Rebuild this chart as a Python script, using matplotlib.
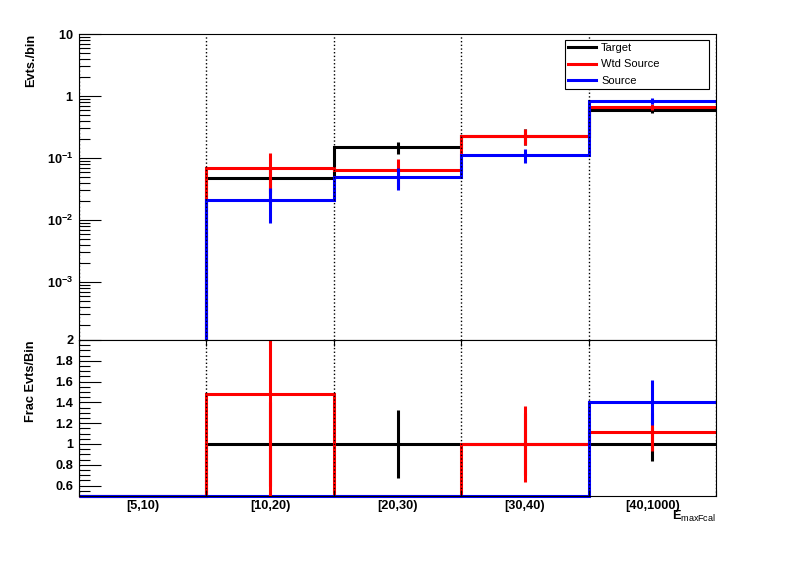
import numpy as np
import matplotlib
matplotlib.use('Agg')
import matplotlib.pyplot as plt
from matplotlib.lines import Line2D
from matplotlib.ticker import FixedLocator, MultipleLocator, LogLocator, FuncFormatter, NullFormatter

plt.rcParams['font.family'] = ['Liberation Sans', 'DejaVu Sans']
plt.rcParams['mathtext.fontset'] = 'custom'
plt.rcParams['mathtext.rm'] = 'Liberation Sans'
plt.rcParams['mathtext.bf'] = 'Liberation Sans:bold'

# Bins
categories = ['[5,10)', '[10,20)', '[20,30)', '[30,40)', '[40,1000)']

# Upper pad: events per bin
target = [0.0, 0.0476, 0.150, 0.229, 0.594]
target_err = [0.0, 0.020, 0.033, 0.064, 0.065]
wtd_source = [0.0, 0.069, 0.064, 0.229, 0.673]
wtd_source_err = [0.0, 0.051, 0.031, 0.064, 0.070]
source = [0.0, 0.021, 0.049, 0.112, 0.83]
source_err = [0.0, 0.012, 0.019, 0.028, 0.10]

# Lower pad: fraction relative to target
frac_target = [0.0, 1.0, 1.0, 1.0, 1.0]
frac_target_err = [0.0, 0.40, 0.33, 0.30, 0.16]
frac_wtd = [0.0, 1.48, 0.43, 1.0, 1.115]
frac_wtd_err = [0.0, 1.20, 0.20, 0.37, 0.18]
frac_src = [0.0, 0.44, 0.33, 0.49, 1.40]
frac_src_err = [0.0, 0.30, 0.30, 0.30, 0.215]

edges = np.arange(len(categories) + 1)
centers = edges[:-1] + 0.5
colors = ['black', 'red', 'blue']
lw = 2.2
fs = 9.2

fig = plt.figure(figsize=(7.96, 5.72), dpi=100)
ax1 = fig.add_axes([79/796, 1 - 340/572, 637/796, 306/572])
ax2 = fig.add_axes([79/796, 1 - 496/572, 637/796, 156/572])

# ---- upper pad
ax1.set_yscale('log')
ylo1, yhi1 = 10**(1 - 306/62), 10
for vals, errs, c in zip([target, wtd_source, source], [target_err, wtd_source_err, source_err], colors):
    ax1.stairs(vals, edges, baseline=None, color=c, lw=lw)
    v = np.array(vals)
    m = v > 0
    ax1.errorbar(centers[m], v[m], yerr=np.array(errs)[m], fmt='none', ecolor=c, elinewidth=lw, capsize=0)
ax1.set_ylim(ylo1, yhi1)
ax1.set_xlim(0, len(categories))
ax1.yaxis.set_major_locator(FixedLocator([1e-3, 1e-2, 1e-1, 1, 10]))
ax1.yaxis.set_minor_locator(LogLocator(base=10, subs=np.arange(2, 10), numticks=20))
ax1.yaxis.set_minor_formatter(NullFormatter())

def logfmt(v, pos):
    if v >= 1:
        return r'$\mathbf{%d}$' % round(v)
    return r'$\mathbf{10^{%d}}$' % round(np.log10(v))

ax1.yaxis.set_major_formatter(FuncFormatter(logfmt))
ax1.set_xticks(edges)
ax1.tick_params(axis='x', length=0, labelbottom=False)
ax1.tick_params(axis='y', which='major', length=16, width=0.8, direction='in', labelsize=fs, pad=4)
ax1.tick_params(axis='y', which='minor', length=8, width=0.8, direction='in')
ax1.grid(axis='x', linestyle=':', color='black', lw=1)
ax1.set_ylabel('Evts./bin', fontsize=fs, fontweight='bold', loc='top')
ax1.yaxis.set_label_coords(-0.066, 1.0)

handles = [Line2D([], [], color=c, lw=lw) for c in colors]
leg = ax1.legend(handles, ['Target', 'Wtd Source', 'Source'], loc='upper left',
                 bbox_to_anchor=(0.763, 0.8235, 0.226, 0.157), mode='expand', borderaxespad=0,
                 fontsize=8, fancybox=False, framealpha=1, edgecolor='black',
                 handlelength=2.5, handletextpad=0.45, labelspacing=0.55, borderpad=0.3)
leg.get_frame().set_linewidth(0.8)

# ---- lower pad
ylo2, yhi2 = 0.5, 2.0
for vals, errs, c in zip([frac_target, frac_wtd, frac_src], [frac_target_err, frac_wtd_err, frac_src_err], colors):
    v = np.array(vals)
    ax2.stairs(np.clip(v, ylo2, yhi2), edges, baseline=None, color=c, lw=lw, clip_on=False)
    m = (v >= ylo2) & (v <= yhi2)
    ax2.errorbar(centers[m], v[m], yerr=np.array(errs)[m], fmt='none', ecolor=c, elinewidth=lw, capsize=0)
ax2.set_ylim(ylo2, yhi2)
ax2.set_xlim(0, len(categories))
ax2.yaxis.set_major_locator(FixedLocator([0.6, 0.8, 1.0, 1.2, 1.4, 1.6, 1.8, 2.0]))
ax2.yaxis.set_minor_locator(MultipleLocator(0.05))
ax2.yaxis.set_major_formatter(FuncFormatter(lambda v, p: ('%g' % v)))
ax2.tick_params(axis='y', which='major', length=16, width=0.8, direction='in', labelsize=fs, pad=4)
ax2.tick_params(axis='y', which='minor', length=8, width=0.8, direction='in')
for t in ax2.get_yticklabels():
    t.set_fontweight('bold')
ax2.set_xticks(edges)
ax2.set_xticklabels([])
ax2.tick_params(axis='x', which='major', length=4, width=0.8, direction='in', top=True, bottom=True)
ax2.set_xticks(centers, minor=True)
ax2.set_xticklabels(categories, minor=True, fontsize=fs, fontweight='bold')
ax2.tick_params(axis='x', which='minor', length=0, pad=3)
ax2.grid(axis='x', linestyle=':', color='black', lw=1)
ax2.set_ylabel('Frac Evts/Bin', fontsize=fs, fontweight='bold', loc='top')
ax2.yaxis.set_label_coords(-0.066, 1.0)
ax2.text(1.0, -0.08, r'E$_{\mathrm{maxFcal}}$', transform=ax2.transAxes, ha='right', va='top',
         fontsize=fs, fontweight='bold')

for ax in (ax1, ax2):
    for s in ax.spines.values():
        s.set_linewidth(0.8)

fig.savefig('out.png', dpi=100)
